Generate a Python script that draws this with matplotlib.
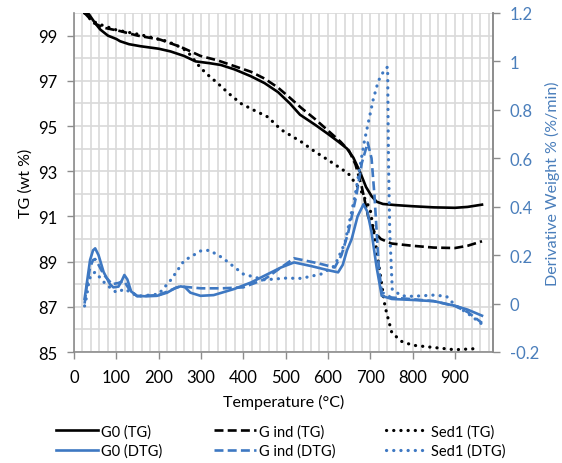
import numpy as np
import matplotlib.pyplot as plt
from matplotlib.ticker import MultipleLocator

plt.rcParams['font.family'] = ['Lato', 'DejaVu Sans']

BLUE = '#3E78C2'
BLUE_TXT = '#4A7EBB'
GRID = '#D9D9D9'
AXC = '#8C8C8C'

# ---- TG curves (wt %) ------------------------------------------------------
t_g0_tg = [25, 35, 50, 62, 80, 100, 109, 130, 157, 200, 228, 260, 287, 320, 347,
           380, 418, 450, 482, 510, 534, 570, 600, 625, 645, 660, 675, 690, 703,
           715, 730, 760, 800, 850, 900, 930, 964]
g0_tg = [100.0, 99.95, 99.55, 99.27, 99.0, 98.85, 98.75, 98.62, 98.53, 98.42,
         98.3, 98.1, 97.86, 97.78, 97.7, 97.5, 97.2, 96.9, 96.5, 96.0, 95.5,
         95.05, 94.65, 94.3, 94.0, 93.6, 93.0, 92.3, 91.9, 91.65, 91.55, 91.5,
         91.45, 91.4, 91.38, 91.42, 91.52]

t_gind_tg = [25, 35, 45, 70, 109, 150, 204, 252, 299, 340, 371, 418, 450, 482,
             510, 537, 570, 600, 630, 650, 665, 680, 695, 710, 725, 750, 800,
             850, 900, 930, 964]
gind_tg = [100.0, 99.8, 99.57, 99.35, 99.2, 99.0, 98.82, 98.5, 98.1, 97.9, 97.7,
           97.4, 97.1, 96.7, 96.25, 95.8, 95.3, 94.8, 94.3, 93.9, 93.3, 92.3,
           91.0, 90.3, 90.0, 89.8, 89.7, 89.62, 89.6, 89.7, 89.9]

t_sed_tg = [25, 35, 45, 62, 100, 157, 220, 250, 268, 285, 299, 320, 339, 365,
            394, 425, 458, 489, 537, 568, 600, 648, 679, 700, 715, 735, 751, 774,
            800, 850, 900, 950]
sed_tg = [100.0, 99.8, 99.63, 99.49, 99.25, 99.04, 98.75, 98.5, 98.3, 97.9,
          97.57, 97.2, 96.9, 96.45, 96.0, 95.7, 95.4, 94.84, 94.3, 93.88, 93.5,
          92.9, 92.1, 91.3, 89.5, 87.0, 85.85, 85.47, 85.3, 85.2, 85.1, 85.15]

# ---- DTG curves (%/min) ----------------------------------------------------
t_g0_dtg = [25, 30, 38, 45, 50, 58, 70, 85, 93, 105, 113, 119, 126, 135, 149,
            170, 196, 220, 240, 252, 262, 275, 299, 330, 378, 418, 450, 489, 520,
            560, 600, 624, 635, 645, 656, 670, 684, 693, 703, 715, 727, 751, 800,
            850, 900, 930, 964]
g0_dtg = [0.02, 0.08, 0.18, 0.22, 0.228, 0.2, 0.13, 0.08, 0.067, 0.07, 0.095,
          0.118, 0.1, 0.05, 0.032, 0.03, 0.032, 0.045, 0.065, 0.071, 0.068,
          0.045, 0.032, 0.035, 0.06, 0.087, 0.115, 0.149, 0.17, 0.155, 0.138,
          0.129, 0.16, 0.22, 0.266, 0.36, 0.41, 0.38, 0.295, 0.15, 0.032, 0.019,
          0.015, 0.01, -0.009, -0.025, -0.05]

t_gind_dtg = [25, 30, 38, 45, 50, 58, 70, 90, 105, 118, 130, 149, 200, 250, 300,
              350, 400, 450, 490, 520, 540, 580, 616, 632, 648, 667, 680, 694,
              703, 710, 720, 727, 750, 800, 850, 900, 930, 964]
gind_dtg = [0.0, 0.07, 0.15, 0.18, 0.184, 0.16, 0.12, 0.08, 0.085, 0.094, 0.06,
            0.03, 0.035, 0.071, 0.063, 0.063, 0.067, 0.1, 0.15, 0.187, 0.18,
            0.165, 0.149, 0.2, 0.294, 0.445, 0.58, 0.665, 0.6, 0.445, 0.156,
            0.047, 0.025, 0.018, 0.01, -0.01, -0.035, -0.08]

t_sed_dtg = [25, 30, 35, 40, 50, 60, 75, 100, 120, 150, 200, 230, 260, 300, 320,
             350, 400, 450, 500, 537, 584, 616, 640, 664, 686, 707, 719, 734,
             741, 743, 746, 752, 774, 800, 850, 880, 900, 930, 964]
sed_dtg = [-0.01, 0.03, 0.09, 0.118, 0.13, 0.11, 0.08, 0.046, 0.06, 0.03, 0.039,
           0.1, 0.177, 0.218, 0.22, 0.19, 0.122, 0.098, 0.105, 0.104, 0.122,
           0.156, 0.25, 0.445, 0.67, 0.843, 0.919, 0.967, 0.977, 0.6, 0.3,
           0.058, 0.032, 0.03, 0.035, 0.03, -0.006, -0.04, -0.085]

fig = plt.figure(figsize=(5.62, 4.64), dpi=100)
ax = fig.add_axes([74 / 562, 1 - 353 / 464, (493 - 74) / 562, (353 - 14) / 464])
ax2 = ax.twinx()

LW = 1.9
dash = (0, (3.4, 1.6))
dots = (0, (0.05, 2.2))

ax.plot(t_g0_tg, g0_tg, color='black', lw=LW, label='G0 (TG)')
ax.plot(t_gind_tg, gind_tg, color='black', lw=LW, ls=dash, label='G ind (TG)')
ax.plot(t_sed_tg, sed_tg, color='black', lw=LW + 0.4, ls=dots,
        dash_capstyle='round', label='Sed1 (TG)')

ax2.plot(t_g0_dtg, g0_dtg, color=BLUE, lw=LW, label='G0 (DTG)')
ax2.plot(t_gind_dtg, gind_dtg, color=BLUE, lw=LW, ls=dash, label='G ind (DTG)')
ax2.plot(t_sed_dtg, sed_dtg, color=BLUE, lw=LW + 0.4, ls=dots,
         dash_capstyle='round', label='Sed1 (DTG)')

# axes limits and ticks
ax.set_xlim(0, 990)
ax.set_ylim(85, 100)
ax2.set_ylim(-0.2, 1.2)
ax.set_xticks(np.arange(0, 901, 100))
ax.set_yticks(np.arange(85, 100, 2))
ax.xaxis.set_minor_locator(MultipleLocator(20))
ax.yaxis.set_minor_locator(MultipleLocator(1))
ax2.set_yticks(np.arange(-0.2, 1.21, 0.2))
ax2.set_yticklabels(['-0.2', '0', '0.2', '0.4', '0.6', '0.8', '1', '1.2'])

ax.grid(True, which='both', color=GRID, lw=1.2)
ax.set_axisbelow(True)
ax.tick_params(which='minor', length=0)
ax.tick_params(which='major', length=5, width=1, color=AXC, labelsize=12,
               pad=7)
ax2.tick_params(length=5, width=1, color=AXC, labelsize=12,
                labelcolor=BLUE_TXT, pad=7)

for a in (ax, ax2):
    a.spines['top'].set_visible(False)
    for s in ('left', 'bottom', 'right'):
        a.spines[s].set_color(AXC)
        a.spines[s].set_linewidth(1.2)
ax2.spines['left'].set_visible(False)
ax2.spines['bottom'].set_visible(False)

ax.set_xlabel('Temperature (°C)', fontsize=11.5, labelpad=7)
ax.set_ylabel('TG (wt %)', fontsize=11.5, labelpad=4)
ax2.set_ylabel('Derivative Weight % (%/min)', fontsize=11.5, color=BLUE_TXT,
               labelpad=4)

handles = ax.get_lines() + ax2.get_lines()
order = [0, 3, 1, 4, 2, 5]
fig.legend([handles[i] for i in order], [handles[i].get_label() for i in order],
           ncol=3, loc='center', bbox_to_anchor=(0.5, 1 - 442 / 464),
           frameon=False, fontsize=10.5, handlelength=2.9, handletextpad=0.2,
           columnspacing=3.5, labelspacing=0.35)

fig.savefig('out.png', dpi=100)
